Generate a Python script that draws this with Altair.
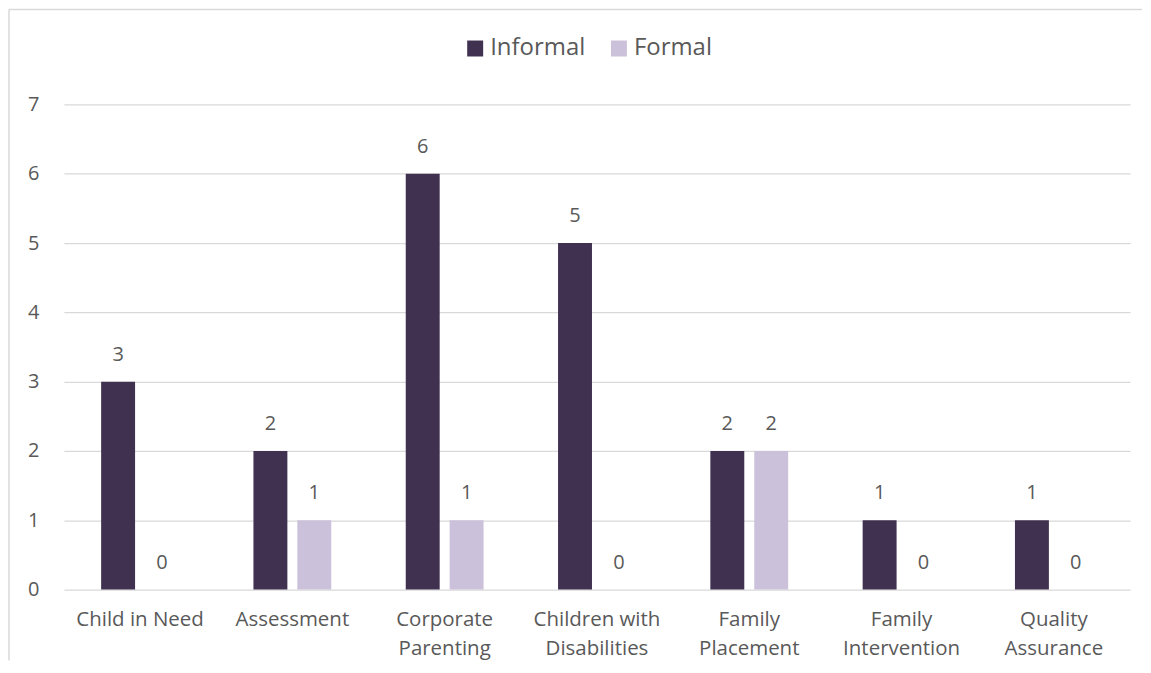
import altair as alt
import pandas as pd

categories = ["Child in Need", "Assessment", "Corporate Parenting",
              "Children with Disabilities", "Family Placement",
              "Family Intervention", "Quality Assurance"]
label_lines = {
    "Corporate Parenting": ["Corporate", "Parenting"],
    "Children with Disabilities": ["Children with", "Disabilities"],
    "Family Placement": ["Family", "Placement"],
    "Family Intervention": ["Family", "Intervention"],
    "Quality Assurance": ["Quality", "Assurance"],
}
series = ["Informal", "Formal"]
informal = [3, 2, 6, 5, 2, 1, 1]
formal = [0, 1, 1, 0, 2, 0, 0]
y_ticks = [0, 1, 2, 3, 4, 5, 6, 7]
colors = ["#403151", "#CCC1DA"]

rows = []
for c, a, b in zip(categories, informal, formal):
    rows.append({"category": c, "series": "Informal", "value": a})
    rows.append({"category": c, "series": "Formal", "value": b})
df = pd.DataFrame(rows)

FONT = "Open Sans"
TXT = "#595959"
GRID = "#D9D9D9"

expr = "datum.label"
for k, v in label_lines.items():
    expr = f"datum.label == '{k}' ? ['{v[0]}', '{v[1]}'] : (" + expr + ")"

x = alt.X("category:N", sort=categories, title=None,
          scale=alt.Scale(paddingInner=0.489, paddingOuter=0.2445),
          axis=alt.Axis(labelAngle=0, labelFont=FONT, labelFontSize=20.5,
                        labelColor=TXT, labelPadding=20, labelLineHeight=29,
                        domain=False, ticks=False, labelExpr=expr))
xo = alt.XOffset("series:N", sort=series,
                 scale=alt.Scale(paddingInner=0.227, paddingOuter=0))
y = alt.Y("value:Q", title=None,
          scale=alt.Scale(domain=[0, 7], nice=False),
          axis=alt.Axis(values=y_ticks, labelFont=FONT, labelFontSize=20,
                        labelColor=TXT, labelPadding=25, domain=False,
                        ticks=False, grid=True, gridColor=GRID, gridWidth=1.3))

base = alt.Chart(df)
bars = base.mark_bar().encode(
    x=x, xOffset=xo, y=y,
    color=alt.Color("series:N", sort=series, title=None,
                    scale=alt.Scale(domain=series, range=colors),
                    legend=alt.Legend(orient="none", direction="horizontal",
                                      legendX=400, legendY=-68,
                                      symbolType="square", symbolSize=256,
                                      symbolStrokeWidth=0, symbolOpacity=1,
                                      labelFont=FONT, labelFontSize=24,
                                      labelColor=TXT, labelOffset=3,
                                      columnPadding=21)),
)
labels = base.mark_text(dy=-27, baseline="middle", font=FONT, fontSize=20,
                        color=TXT).encode(
    x=x, xOffset=xo, y=y, text="value:Q")

frame = pd.DataFrame({"k": [0]})
top_rule = alt.Chart(frame).mark_rule(color=GRID, strokeWidth=1.5).encode(
    x=alt.value(-55), x2=alt.value(1080), y=alt.value(-95))
left_rule = alt.Chart(frame).mark_rule(color=GRID, strokeWidth=1.5).encode(
    x=alt.value(-55), y=alt.value(-95), y2=alt.value(557))

chart = alt.layer(bars, labels, top_rule, left_rule).properties(
    width=1068, height=486, padding=0
).configure_view(stroke=None)

chart.save("out.html", embed_options={"renderer": "svg", "actions": False})
